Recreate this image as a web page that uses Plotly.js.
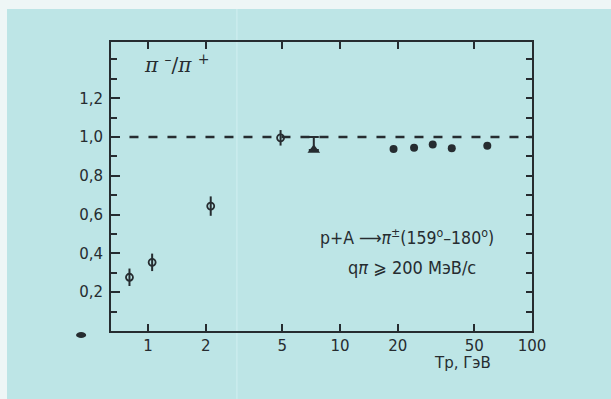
<!DOCTYPE html>
<html>
<head>
<meta charset="utf-8">
<script src="https://cdn.plot.ly/plotly-3.0.1.min.js"></script>
<style>html,body{margin:0;padding:0;background:#eef6f6;}</style>
</head>
<body>
<div id="chart" style="width:611px;height:399px;"></div>
<script>
// open circles with symmetric error bars
const openX = [0.8, 1.05, 2.12, 4.9];
const openY = [0.277, 0.354, 0.644, 0.996];
const openErr = [0.045, 0.045, 0.05, 0.04];
// filled triangle with upward bar
const triX = [7.3];
const triY = [0.933];
const triErrPlus = [0.067];
const triErrMinus = [0];
// filled dots
const dotX = [19.0, 24.3, 30.4, 38.2, 58.5];
const dotY = [0.938, 0.945, 0.962, 0.942, 0.955];
// reference line at ratio 1
const refX = [0.8, 100];
const refY = [1.0, 1.0];
// ticks
const xTickVals = [1, 2, 5, 10, 20, 50, 100];
const xTickText = ['1', '2', '5', '10', '20', '50', '100'];
const yTickVals = [0.2, 0.4, 0.6, 0.8, 1.0, 1.2];
const yTickText = ['0,2', '0,4', '0,6', '0,8', '1,0', '1,2'];

const ink = '#262c30';
const bg = '#bde5e6';
const font = 'DejaVu Sans, sans-serif';
const condensed = 'DejaVu Sans Condensed, DejaVu Sans, sans-serif';

const traces = [
  {x: refX, y: refY, mode: 'lines', line: {color: ink, width: 2.5, dash: '9px,10px'}, hoverinfo: 'skip'},
  {x: openX, y: openY, mode: 'markers', type: 'scatter',
   marker: {symbol: 'circle-open', size: 7, color: ink, line: {width: 1.8, color: ink}},
   error_y: {type: 'data', array: openErr, visible: true, color: ink, thickness: 2, width: 0}},
  {x: triX, y: triY, mode: 'markers', type: 'scatter',
   error_y: {type: 'data', symmetric: false, array: triErrPlus, arrayminus: triErrMinus, visible: true, color: ink, thickness: 2, width: 5},
   marker: {symbol: 'triangle-up', size: 11, color: ink, line: {width: 0}}},
  {x: dotX, y: dotY, mode: 'markers', type: 'scatter',
   marker: {symbol: 'circle', size: 8, color: ink}},
  {x: [1], y: [0.5], yaxis: 'y2', mode: 'markers', marker: {opacity: 0}, hoverinfo: 'skip'}
];

const yRange = [0, 1.49];
const layout = {
  width: 611, height: 399,
  margin: {l: 111, r: 79, t: 42, b: 68},
  paper_bgcolor: '#eef6f6',
  plot_bgcolor: bg,
  showlegend: false,
  font: {family: font, color: ink, size: 14},
  xaxis: {
    type: 'log', range: [Math.log10(0.641), 2],
    tickvals: xTickVals, ticktext: xTickText,
    ticks: 'inside', ticklen: 7, tickwidth: 2, tickcolor: ink,
    showline: true, linecolor: ink, linewidth: 2, mirror: 'ticks',
    showgrid: false, zeroline: false,
    tickfont: {family: font, size: 15, color: ink}
  },
  yaxis: {
    range: yRange,
    tickvals: yTickVals, ticktext: yTickText,
    ticks: 'inside', ticklen: 9, tickwidth: 2, tickcolor: ink,
    minor: {dtick: 0.1, tick0: 0, ticks: 'inside', ticklen: 6, tickwidth: 2, tickcolor: ink},
    showline: true, linecolor: ink, linewidth: 2, mirror: true,
    showgrid: false, zeroline: false, ticklabelstandoff: 3,
    tickfont: {family: font, size: 15, color: ink}
  },
  yaxis2: {
    range: yRange, overlaying: 'y', side: 'right',
    tickmode: 'linear', tick0: 0, dtick: 0.1,
    ticks: 'inside', ticklen: 6, tickwidth: 2, tickcolor: ink,
    showticklabels: false, showgrid: false, zeroline: false, showline: false
  },
  shapes: [
    {type: 'rect', xref: 'paper', yref: 'paper', x0: -0.247, x1: 1.2, y0: -0.25, y1: 1.114,
     fillcolor: bg, line: {width: 0}, layer: 'below'},
    {type: 'line', xref: 'paper', yref: 'paper', x0: 0.299, x1: 0.299, y0: -0.25, y1: 1.114,
     line: {color: '#cbeced', width: 1.5}, layer: 'below'},
    {type: 'circle', xref: 'paper', yref: 'paper', x0: -0.083, x1: -0.059, y0: -0.024, y1: -0.0035,
     fillcolor: ink, line: {width: 0}}
  ],
  annotations: [
    {xref: 'paper', yref: 'paper', x: 0.074, y: 0.925, xanchor: 'left', yanchor: 'middle', showarrow: false,
     text: '<i>π</i> <sup>–</sup>/<i>π</i> <sup>+</sup>', font: {family: 'DejaVu Serif, serif', size: 20, color: ink}},
    {xref: 'paper', yref: 'paper', x: 0.704, y: 0.325, xanchor: 'center', yanchor: 'middle', showarrow: false,
     text: 'p+A ⟶<i>π</i><sup>±</sup>(159<sup>o</sup>–180<sup>o</sup>)', font: {family: condensed, size: 17.5, color: ink}},
    {xref: 'paper', yref: 'paper', x: 0.714, y: 0.218, xanchor: 'center', yanchor: 'middle', showarrow: false,
     text: 'q<i>π</i> ⩾ 200 МэВ/с', font: {family: condensed, size: 18, color: ink}},
    {xref: 'paper', yref: 'paper', x: 0.834, y: -0.111, xanchor: 'center', yanchor: 'middle', showarrow: false,
     text: 'Tp, ГэВ', font: {family: font, size: 15, color: ink}}
  ]
};

Plotly.newPlot('chart', traces, layout, {displayModeBar: false, staticPlot: true});
</script>
</body>
</html>
